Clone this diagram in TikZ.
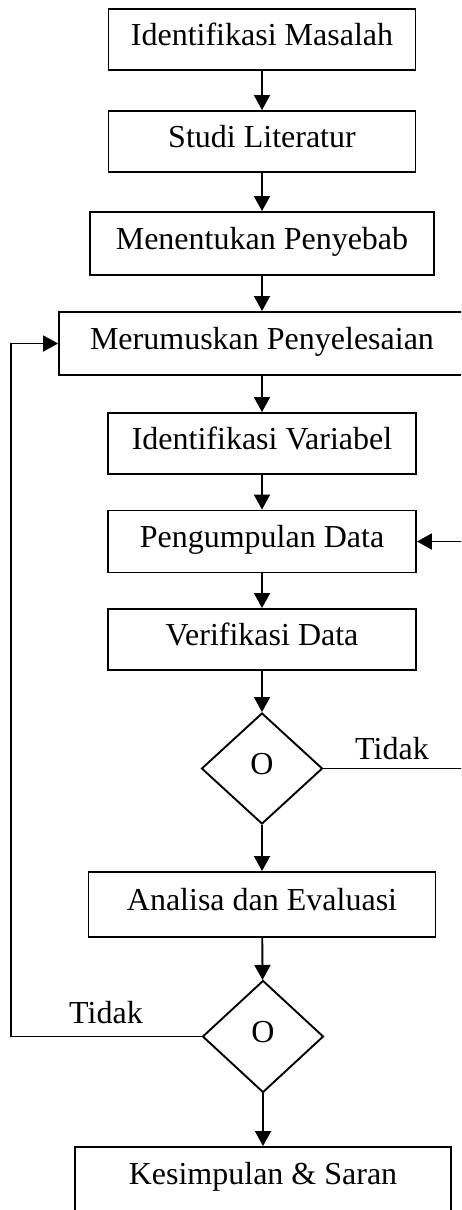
\documentclass[tikz,border=0pt]{standalone}
\usepackage{fontspec}
\setmainfont{Liberation Serif}
\usetikzlibrary{arrows.meta,shapes.geometric,positioning}
\tikzset{langkah/.style={draw,rectangle,inner sep=0pt,align=center,text height=0.76em,text depth=0.18em,minimum height=30.5pt,minimum width=154pt},
  keputusan/.style={draw,diamond,inner sep=0pt,text height=0.76em,text depth=0.18em,minimum width=60.5pt,minimum height=55.5pt},
  ket/.style={inner sep=0pt}}
\begin{document}
\begin{tikzpicture}[x=0.5pt,y=-0.5pt,->,>={Triangle[length=7.5pt,width=8pt]},line width=0.95pt,font=\fontsize{16}{19}\selectfont]
    \useasboundingbox (0,0) rectangle (461,1210);
    \clip (0,0) rectangle (461,1210);
    \node[langkah,minimum width=153.5pt] (n1) at (262,39.5) {Identifikasi Masalah};
    \node[langkah,minimum width=153.5pt] (n2) at (262,141.5) {Studi Literatur};
    \node[langkah,minimum width=172pt,minimum height=31.5pt] (n3) at (262,243.5) {Menentukan Penyebab};
    \node[langkah,minimum width=203pt,minimum height=31.5pt] (n4) at (262,343.5) {Merumuskan Penyelesaian};
    \node[langkah] (n5) at (262,443.5) {Identifikasi Variabel};
    \node[langkah,minimum height=31pt] (n6) at (262,541.5) {Pengumpulan Data};
    \node[langkah] (n7) at (262,639.5) {Verifikasi Data};
    \node[keputusan] (d1) at (262,768.5) {O};
    \node[langkah,minimum width=173.5pt,minimum height=32.5pt] (n8) at (262,904.5) {Analisa dan Evaluasi};
    \node[keputusan,minimum height=56pt] (d2) at (263,1036.5) {O};
    \node[langkah,minimum width=188pt,minimum height=32pt] (n9) at (263,1179) {Kesimpulan \& Saran};
    \node[ket] (t1) at (392,749) {Tidak};
    \node[ket] (t2) at (106,1013) {Tidak};
    \coordinate (kanan) at (466,768.5);
    \coordinate (kiri) at (11,1036.5);
    \path (n1) edge (n2);
    \path (n2) edge (n3);
    \path (n3) edge (n4);
    \path (n4) edge (n5);
    \path (n5) edge (n6);
    \path (n6) edge (n7);
    \path (n7) edge (d1);
    \path (d1) edge (n8);
    \path (n8) edge (d2);
    \path (d2) edge (n9);
    \draw (d1.east) -- (kanan) |- (n6.east);
    \draw (d2.west) -- (kiri) |- (n4.west);
\end{tikzpicture}
\end{document}
